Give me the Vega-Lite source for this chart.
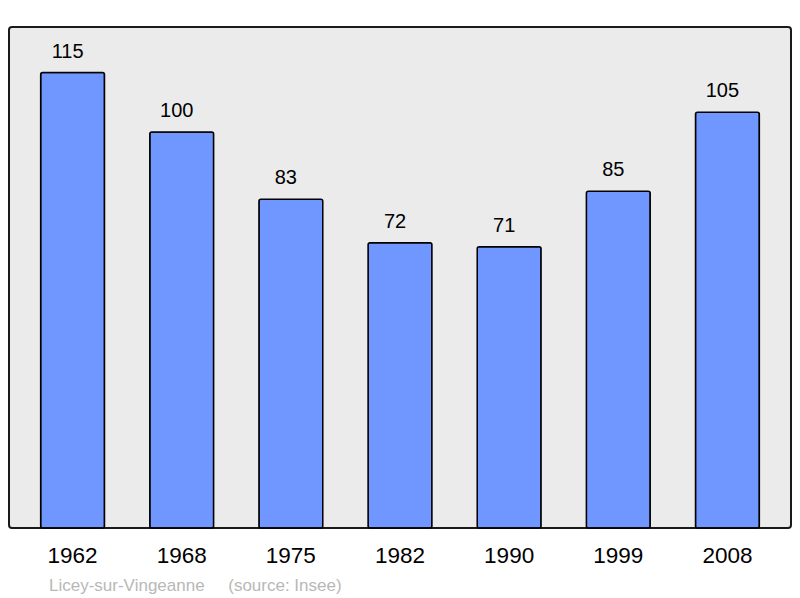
{
  "$schema": "https://vega.github.io/schema/vega-lite/v6.json",
  "width": 782,
  "height": 501,
  "autosize": "none",
  "padding": {"left": 9, "top": 27, "right": 9, "bottom": 70},
  "background": "white",
  "data": {
    "values": [
      {"year": "1962", "pop": 115},
      {"year": "1968", "pop": 100},
      {"year": "1975", "pop": 83},
      {"year": "1982", "pop": 72},
      {"year": "1990", "pop": 71},
      {"year": "1999", "pop": 85},
      {"year": "2008", "pop": 105}
    ]
  },
  "title": {
    "text": "Licey-sur-Vingeanne\u00a0\u00a0\u00a0\u00a0\u00a0(source: Insee)",
    "orient": "bottom",
    "anchor": "start",
    "dx": 40,
    "offset": 11,
    "font": "Liberation Sans",
    "fontSize": 17,
    "fontWeight": "normal",
    "color": "#b8b8b8"
  },
  "encoding": {
    "x": {
      "field": "year",
      "type": "ordinal",
      "title": null,
      "scale": {"paddingInner": 0.415, "paddingOuter": 0.29},
      "axis": {
        "domain": false,
        "ticks": false,
        "labelAngle": 0,
        "labelFont": "Liberation Sans",
        "labelFontSize": 22.5,
        "labelColor": "black",
        "labelPadding": 16
      }
    },
    "y": {
      "field": "pop",
      "type": "quantitative",
      "scale": {"domain": [0, 126.5], "nice": false},
      "axis": null
    }
  },
  "layer": [
    {
      "mark": {
        "type": "bar",
        "color": "#7096ff",
        "stroke": "black",
        "strokeWidth": 1.5,
        "cornerRadius": 2
      }
    },
    {
      "mark": {
        "type": "text",
        "baseline": "alphabetic",
        "dx": -5,
        "dy": -15,
        "font": "Liberation Sans",
        "fontSize": 20,
        "color": "black"
      },
      "encoding": {"text": {"field": "pop", "type": "quantitative"}}
    }
  ],
  "config": {
    "view": {"fill": "#ebebeb", "stroke": "#1a1a1a", "strokeWidth": 2, "cornerRadius": 3}
  }
}
